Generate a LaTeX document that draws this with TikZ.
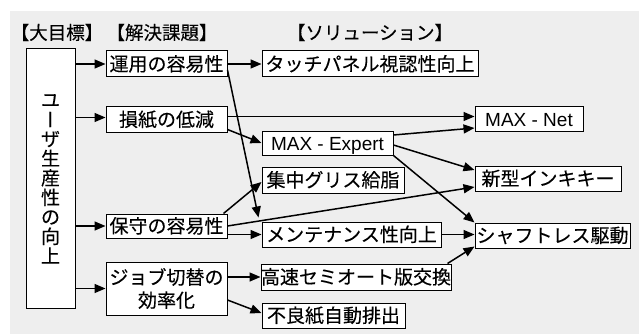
\documentclass[tikz,border=0pt]{standalone}
\usepackage{fontspec}
\usepackage{graphicx}
\setmainfont{Noto Sans CJK JP}[FakeBold=0.2]
\newfontfamily\lat{Liberation Sans}
\usetikzlibrary{arrows.meta}
\definecolor{bgc}{HTML}{EEEEEE}
\tikzset{
  bx/.style={draw, line width=1pt, fill=white, inner sep=0pt,
    font=\fontsize{19}{23}\selectfont, text height=16pt, text depth=2pt},
  bxtwo/.style={draw, line width=1pt, fill=white, inner sep=0pt,
    font=\fontsize{19}{23}\selectfont, align=center},
  hdr/.style={inner sep=0pt, font=\fontsize{18.5}{22}\selectfont, text height=15pt, text depth=2pt},
  vch/.style={inner sep=0pt, font=\fontsize{19}{23}\selectfont, text height=16pt, text depth=2pt},
  arr/.style={line width=1.5pt, -{Triangle[length=11pt,width=9pt]}}
}
\begin{document}
\begin{tikzpicture}[x=1pt,y=-1pt]
\useasboundingbox (0,0) rectangle (639,334);
\fill[bgc] (10,11) rectangle (639,334);

% headers
\node[hdr] (h1) at (57,33) {【大目標】};
\node[hdr] (h2) at (162,33) {【解決課題】};
\node[hdr] (h3) at (370,33) {【ソリューション】};

% goal box
\node[draw, line width=1pt, fill=white, minimum width=49pt, minimum height=259pt, inner sep=0pt] (goal) at (50.5,178.5) {};
\node[vch] (v1) at (50.5,100) {ユ};
\node[vch, rotate=90] (v2) at (50.5,119.5) {ー};
\node[vch] (v3) at (50.5,139) {ザ};
\node[vch] (v4) at (50.5,158.5) {生};
\node[vch] (v5) at (50.5,178) {産};
\node[vch] (v6) at (50.5,197.5) {性};
\node[vch] (v7) at (50.5,217) {の};
\node[vch] (v8) at (50.5,236.5) {向};
\node[vch] (v9) at (50.5,256) {上};

% problems
\node[bx, minimum width=121pt, minimum height=26pt] (p1) at (166.5,64) {運用の容易性};
\node[bx, minimum width=121pt, minimum height=25pt] (p2) at (166.5,119.5) {損紙の低減};
\node[bx, minimum width=121pt, minimum height=24pt] (hs) at (166.5,226) {保守の容易性};
\node[bxtwo, minimum width=121pt, minimum height=53pt] (jb) at (166.5,288.5) {ジョブ切替の\\効率化};

% solutions
\node[bx, minimum width=216pt, minimum height=26pt] (t) at (370,64) {タッチパネル視認性向上};
\node[bx, minimum width=131pt, minimum height=24pt, font=\lat\fontsize{19}{23}\selectfont] (ex) at (327.5,143) {MAX - Expert};
\node[bx, minimum width=142pt, minimum height=26pt] (sg) at (333,180) {集中グリス給脂};
\node[bx, minimum width=179pt, minimum height=25pt] (m) at (351.5,234.5) {メンテナンス性向上};
\node[bx, minimum width=188pt, minimum height=26pt] (ks) at (356,277) {高速セミオート版交換};
\node[bx, minimum width=143pt, minimum height=25pt] (fr) at (333.5,315.5) {不良紙自動排出};
\node[bx, minimum width=108pt, minimum height=24pt, font=\lat\fontsize{19}{23}\selectfont] (net) at (529,119) {MAX - Net};
\node[bx, minimum width=146pt, minimum height=25pt] (nk) at (548,178.5) {新型インキキー};
\node[bx, minimum width=155pt, minimum height=25pt] (sh) at (552.5,235.5) {シャフトレス駆動};

% goal -> problems
\draw[arr] (goal.east |- p1.west) -- (p1.west);
\draw[arr] ([yshift=2pt]goal.east |- p2.west) -- ([yshift=2pt]p2.west);
\draw[arr] (goal.east |- hs.west) -- (hs.west);
\draw[arr] (goal.east |- jb.west) -- (jb.west);

% problems -> solutions
\draw[arr] (p1.east) -- (t.west);
\draw[arr] ([yshift=-6pt]p1.east) -- ([xshift=-3pt,yshift=4pt]m.north west);
\draw[arr] ([yshift=3pt]p2.east) -- ([yshift=3pt]p2.east -| net.west);
\draw[arr] ([yshift=3pt]p2.south east) -- (ex.west);
\draw[arr] ([xshift=-4pt]hs.north east) -- ([yshift=-2pt]sg.west);
\draw[arr] (hs.east) -- ([yshift=-8.5pt]nk.west);
\draw[arr] (m.west -| hs.east) -- (m.west);
\draw[arr] (ks.west -| jb.east) -- (ks.west);
\draw[arr] ([yshift=-11.5pt]jb.east) -- ([yshift=2.5pt]fr.west);

% solution -> solution
\draw[arr] ([yshift=8pt]ex.east) -- ([yshift=-9pt]net.west);
\draw[arr] ([yshift=-2pt]ex.east) -- ([yshift=8.5pt]nk.west);
\draw[arr] (ex.south east) -- (sh.north west);
\draw[arr] (m.east) -- (m.east -| sh.west);
\draw[arr] ([xshift=-4pt]ks.north east) -- ([yshift=2pt]sh.south west);
\end{tikzpicture}
\end{document}
